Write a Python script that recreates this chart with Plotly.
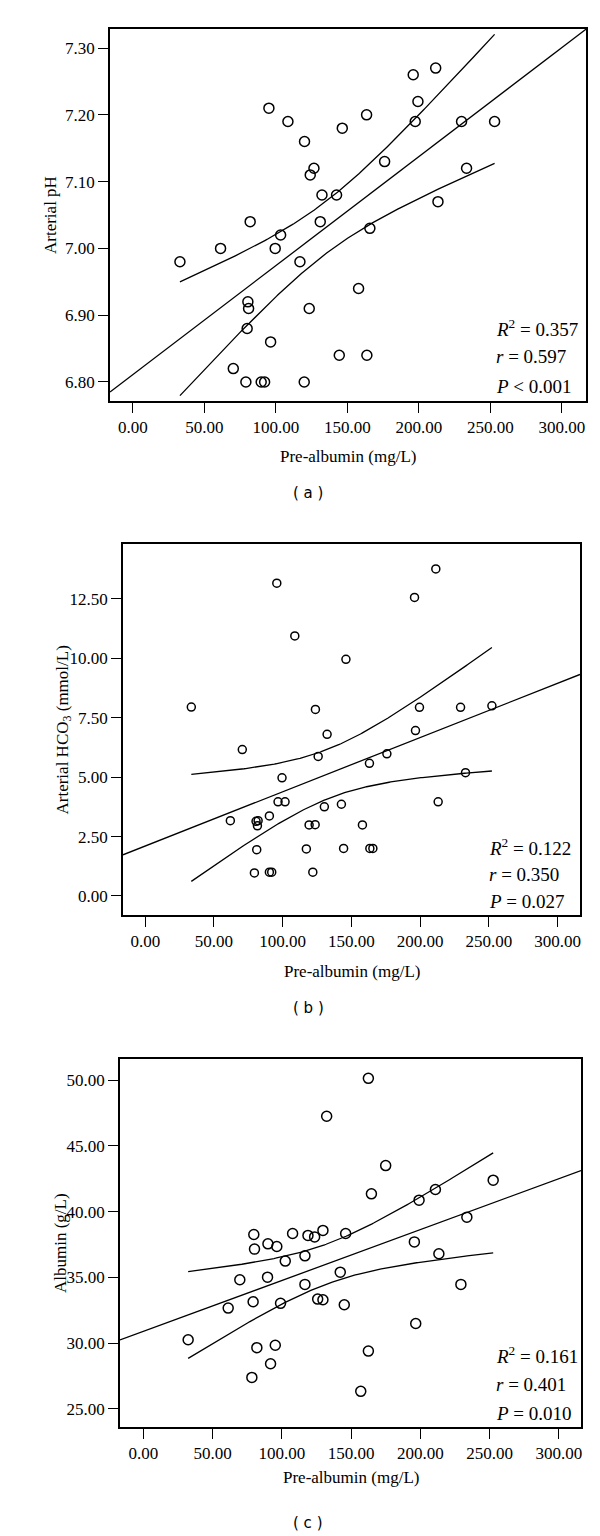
import numpy as np
import plotly.graph_objects as go

# ---------------- data ----------------
# Panel (a): pre-albumin (mg/L) vs arterial pH
a_x = [95.1, 108.4, 146.4, 120.0, 126.6, 124.0, 132.2, 142.4, 196.0, 211.7,
       199.3, 163.4, 197.4, 229.8, 252.9, 176.0, 233.3, 213.3, 82.0, 131.0,
       103.3, 61.3, 99.5, 32.9, 116.8, 80.4, 80.9, 123.3, 79.9, 96.3,
       144.3, 70.2, 79.0, 89.7, 92.1, 119.8, 165.7, 157.8, 163.6]
a_y = [7.21, 7.19, 7.18, 7.16, 7.12, 7.11, 7.08, 7.08, 7.26, 7.27,
       7.22, 7.20, 7.19, 7.19, 7.19, 7.13, 7.12, 7.07, 7.04, 7.04,
       7.02, 7.00, 7.00, 6.98, 6.98, 6.92, 6.91, 6.91, 6.88, 6.86,
       6.84, 6.82, 6.80, 6.80, 6.80, 6.80, 7.03, 6.94, 6.84]

# Panel (b): pre-albumin (mg/L) vs arterial HCO3 (mmol/L)
b_x = [95.7, 108.8, 146.0, 33.5, 123.8, 132.3, 211.4, 195.9, 199.5, 229.4,
       252.2, 196.6, 70.6, 125.8, 99.5, 96.6, 101.7, 61.9, 80.6, 82.1,
       81.6, 90.3, 130.3, 142.7, 119.2, 123.6, 81.1, 117.2, 144.3, 79.4,
       90.3, 92.0, 121.9, 175.8, 163.1, 233.0, 213.1, 158.0, 163.4, 165.6]
b_y = [13.16, 10.94, 9.96, 7.95, 7.85, 6.80, 13.76, 12.56, 7.94, 7.94,
       8.00, 6.96, 6.16, 5.87, 4.97, 3.96, 3.96, 3.17, 3.14, 3.17,
       2.95, 3.37, 3.75, 3.86, 2.99, 3.00, 1.95, 1.98, 2.00, 0.97,
       1.00, 1.00, 1.00, 5.98, 5.58, 5.19, 3.96, 2.99, 2.00, 2.00]

# Panel (c): pre-albumin (mg/L) vs albumin (g/L)
c_x = [132.3, 79.7, 89.9, 96.3, 107.7, 118.8, 123.6, 129.6, 146.0, 80.2,
       162.4, 174.9, 164.6, 252.5, 210.8, 199.0, 233.5, 195.6, 102.4, 116.6,
       69.6, 89.6, 142.1, 116.6, 61.2, 79.2, 99.0, 125.8, 129.6, 145.0,
       32.3, 81.9, 95.2, 91.8, 78.3, 213.3, 229.2, 196.6, 162.4, 156.9]
c_y = [47.25, 38.26, 37.55, 37.35, 38.34, 38.19, 38.08, 38.57, 38.34, 37.15,
       50.13, 43.50, 41.35, 42.39, 41.68, 40.87, 39.58, 37.70, 36.24, 36.64,
       34.82, 35.02, 35.40, 34.47, 32.67, 33.15, 33.03, 33.35, 33.30, 32.92,
       30.26, 29.66, 29.84, 28.44, 27.40, 36.80, 34.47, 31.50, 29.40, 26.34]

x_ticks = [0, 50, 100, 150, 200, 250, 300]
a_yticks = [6.80, 6.90, 7.00, 7.10, 7.20, 7.30]
b_yticks = [0.0, 2.5, 5.0, 7.5, 10.0, 12.5]
c_yticks = [25, 30, 35, 40, 45, 50]

stats_a = ["<i>R</i><sup>2</sup> = 0.357", "<i>r</i> = 0.597", "<i>P</i> < 0.001"]
stats_b = ["<i>R</i><sup>2</sup> = 0.122", "<i>r</i> = 0.350", "<i>P</i> = 0.027"]
stats_c = ["<i>R</i><sup>2</sup> = 0.161", "<i>r</i> = 0.401", "<i>P</i> = 0.010"]

W, H = 600, 1536
SERIF = "Liberation Serif"

panels = [
    dict(x=a_x, y=a_y, xr=[-16.0, 316.8], yr=[6.7715, 7.3285], yt=a_yticks,
         box=(102, 578, 21, 393), ms=10, ytitle="Arterial pH", ytx=42,
         stats=stats_a, sx=486, sy=[320, 348, 378], lab="( a )", laby=485, xty=448),
    dict(x=b_x, y=b_y, xr=[-16.2, 316.3], yr=[-0.80, 14.81], yt=b_yticks,
         box=(115, 572, 536, 907), ms=8, ytitle="Arterial HCO<sub>3</sub> (mmol/L)", ytx=55,
         stats=stats_b, sx=479, sy=[839, 866, 893], lab="( b )", laby=1000, xty=963),
    dict(x=c_x, y=c_y, xr=[-16.9, 315.9], yr=[23.63, 51.6], yt=c_yticks,
         box=(112, 573, 1051, 1419), ms=10, ytitle="Albumin (g/L)", ytx=52,
         stats=stats_c, sx=486, sy=[1347, 1376, 1405], lab="( c )", laby=1515, xty=1469),
]

T975 = 2.025

fig = go.Figure()
annotations = []
layout = {}

for i, p in enumerate(panels):
    k = "" if i == 0 else str(i + 1)
    xa, ya = "x" + k, "y" + k
    x = np.array(p["x"]); y = np.array(p["y"])
    n = len(x)
    slope, icpt = np.polyfit(x, y, 1)
    resid = y - (icpt + slope * x)
    s = np.sqrt(np.sum(resid ** 2) / (n - 2))
    xbar = x.mean(); sxx = np.sum((x - xbar) ** 2)

    # regression line across full axis
    xl = np.array(p["xr"])
    fig.add_trace(go.Scatter(x=xl, y=icpt + slope * xl, mode="lines",
                             line=dict(color="black", width=1.3), xaxis=xa, yaxis=ya,
                             showlegend=False, hoverinfo="skip"))
    # confidence band for the mean
    xg = np.linspace(x.min(), x.max(), 200)
    yg = icpt + slope * xg
    hw = T975 * s * np.sqrt(1.0 / n + (xg - xbar) ** 2 / sxx)
    for sign in (1, -1):
        fig.add_trace(go.Scatter(x=xg, y=yg + sign * hw, mode="lines",
                                 line=dict(color="black", width=1.3), xaxis=xa, yaxis=ya,
                                 showlegend=False, hoverinfo="skip"))
    fig.add_trace(go.Scatter(x=x, y=y, mode="markers",
                             marker=dict(symbol="circle-open", size=p["ms"], color="black",
                                         line=dict(width=1.5, color="black")),
                             xaxis=xa, yaxis=ya, showlegend=False))

    x0, x1, y0, y1 = p["box"]
    common = dict(showline=True, mirror=True, linecolor="black", linewidth=1.5,
                  ticks="outside", ticklen=10, tickwidth=1.3, tickcolor="black",
                  showgrid=False, zeroline=False, tickformat=".2f",
                  tickfont=dict(family=SERIF, size=17, color="black"))
    layout["xaxis" + k] = dict(common, domain=[x0 / W, x1 / W], range=p["xr"],
                               tickvals=x_ticks, anchor=ya)
    layout["yaxis" + k] = dict(common, domain=[1 - y1 / H, 1 - y0 / H], range=p["yr"],
                               tickvals=p["yt"], anchor=xa)

    # axis titles
    annotations.append(dict(text="Pre-albumin (mg/L)", x=(x0 + x1) / 2 / W, y=1 - p["xty"] / H,
                            xref="paper", yref="paper", showarrow=False,
                            xanchor="center", yanchor="middle",
                            font=dict(family=SERIF, size=17, color="black")))
    annotations.append(dict(text=p["ytitle"], x=p["ytx"] / W, y=1 - (y0 + y1) / 2 / H,
                            xref="paper", yref="paper", showarrow=False, textangle=-90,
                            xanchor="center", yanchor="middle",
                            font=dict(family=SERIF, size=17, color="black")))
    for t, yy in zip(p["stats"], p["sy"]):
        annotations.append(dict(text=t, x=p["sx"] / W, y=1 - yy / H, xref="paper", yref="paper",
                                showarrow=False, xanchor="left", yanchor="middle",
                                font=dict(family=SERIF, size=19, color="black")))
    annotations.append(dict(text=p["lab"], x=0.5, y=1 - p["laby"] / H, xref="paper", yref="paper",
                            showarrow=False, xanchor="center", yanchor="middle",
                            font=dict(family="DejaVu Sans", size=15, color="black")))

fig.update_layout(width=W, height=H, margin=dict(l=0, r=0, t=0, b=0),
                  paper_bgcolor="white", plot_bgcolor="white",
                  annotations=annotations, **layout)

fig.write_html("out.html")
